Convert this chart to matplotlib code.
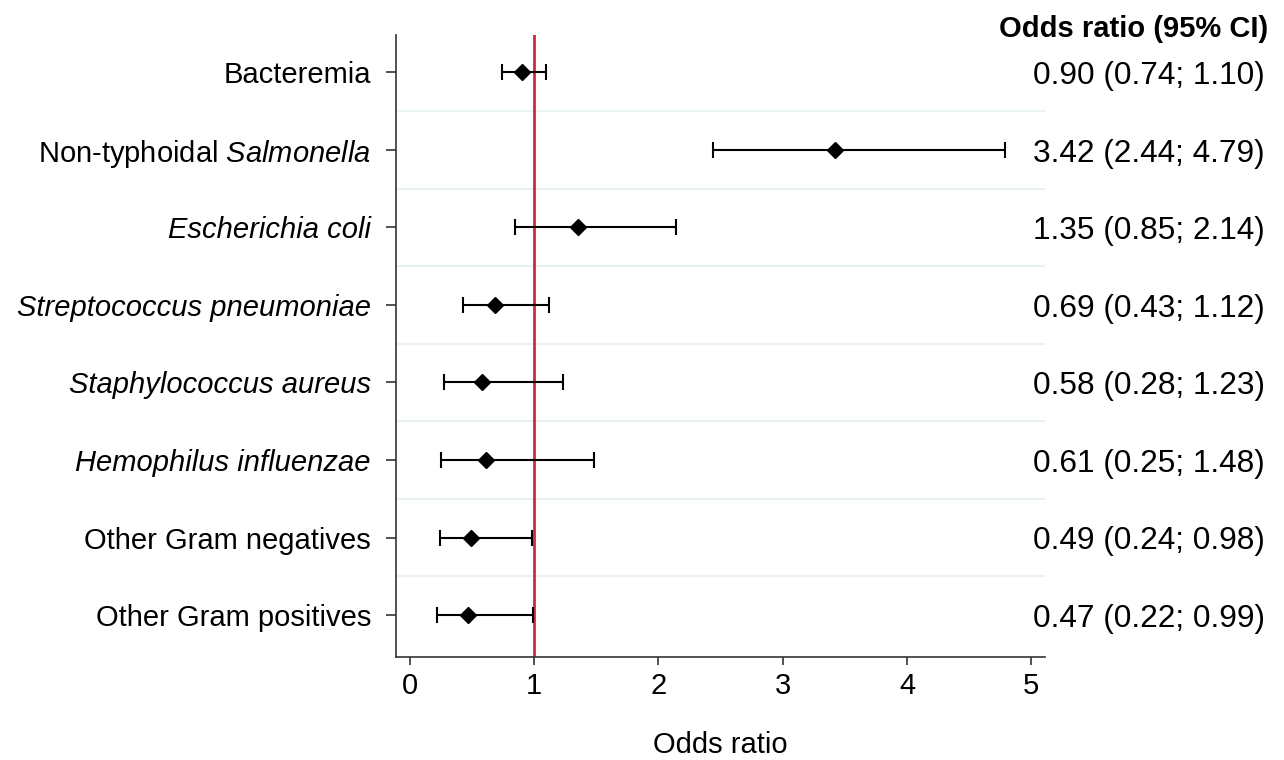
import matplotlib
matplotlib.use("Agg")
import matplotlib.pyplot as plt

plt.rcParams['font.family'] = ['Liberation Sans', 'DejaVu Sans']
plt.rcParams['mathtext.fontset'] = 'custom'
plt.rcParams['mathtext.rm'] = 'Liberation Sans'
plt.rcParams['mathtext.it'] = 'Liberation Sans:italic'

labels = ["Bacteremia", "Non-typhoidal $\\it{Salmonella}$", "Escherichia coli",
          "Streptococcus pneumoniae", "Staphylococcus aureus", "Hemophilus influenzae",
          "Other Gram negatives", "Other Gram positives"]
italic = [False, False, True, True, True, True, False, False]
odds = [0.90, 3.42, 1.35, 0.69, 0.58, 0.61, 0.49, 0.47]
lower = [0.74, 2.44, 0.85, 0.43, 0.28, 0.25, 0.24, 0.22]
upper = [1.10, 4.79, 2.14, 1.12, 1.23, 1.48, 0.98, 0.99]

fig = plt.figure(figsize=(12.84, 7.6), dpi=100)
ax = fig.add_axes([0.3084, 0.1355, 0.5055, 0.8184])

rows = list(range(1, len(labels) + 1))
xerr = [[o - l for o, l in zip(odds, lower)], [u - o for o, u in zip(odds, upper)]]

# light separators between the rows
for r in rows[:-1]:
    ax.axhline(r + 0.5, color="#e8f1f3", lw=1.5, zorder=0)

ax.axvline(1, color="#d1283f", lw=2, zorder=1)
ax.errorbar(odds, rows, xerr=xerr, fmt="D", color="black", ms=8,
            capsize=6, elinewidth=1.5, capthick=1.5, zorder=3)

ax.set_ylim(8.54, 0.52)
ax.set_xlim(-0.11, 5.11)
ax.set_yticks(rows)
ax.set_yticklabels(labels)
for t, it in zip(ax.get_yticklabels(), italic):
    if it:
        t.set_fontstyle("italic")
ax.set_xticks([0, 1, 2, 3, 4, 5])
ax.tick_params(axis="both", labelsize=21, width=1.2, color="#333333")
ax.tick_params(axis="y", length=7, pad=11)
ax.tick_params(axis="x", length=6, pad=5)
ax.set_xlabel("Odds ratio", fontsize=21, labelpad=22)

for s in ["top", "right"]:
    ax.spines[s].set_visible(False)
for s in ["left", "bottom"]:
    ax.spines[s].set_linewidth(1.2)
    ax.spines[s].set_color("#333333")

# text column on the right
tr = ax.get_yaxis_transform()
for r, o, l, u in zip(rows, odds, lower, upper):
    ax.text(1.339, r + 0.05, f"{o:.2f} ({l:.2f}; {u:.2f})", transform=tr,
            ha="right", va="center", fontsize=22.8, clip_on=False)
fig.text(0.988, 0.962, "Odds ratio (95% CI)", ha="right", va="center",
         fontsize=21, fontweight="bold")

fig.savefig("out.png", dpi=100)
